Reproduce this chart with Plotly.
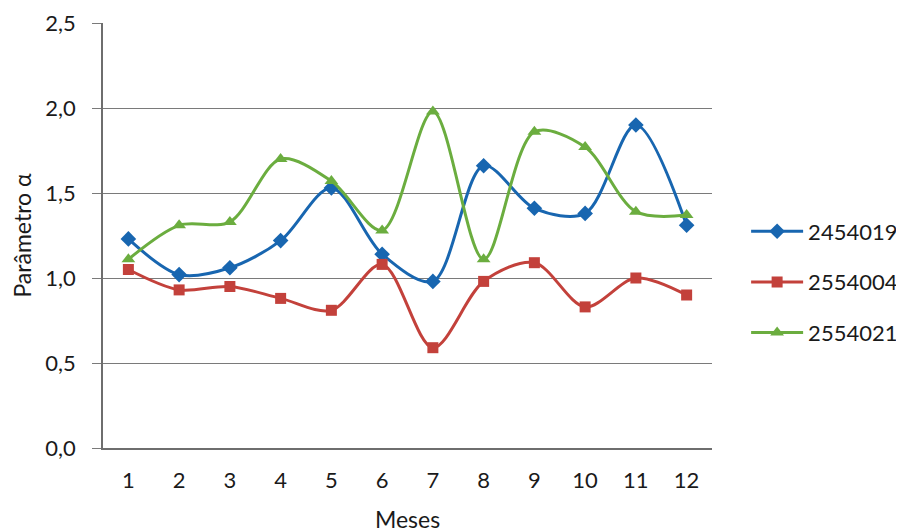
import plotly.graph_objects as go

meses = [1, 2, 3, 4, 5, 6, 7, 8, 9, 10, 11, 12]
s_2454019 = [1.23, 1.02, 1.06, 1.22, 1.53, 1.14, 0.98, 1.66, 1.41, 1.38, 1.90, 1.31]
s_2554004 = [1.05, 0.93, 0.95, 0.88, 0.81, 1.08, 0.59, 0.98, 1.09, 0.83, 1.00, 0.90]
s_2554021 = [1.11, 1.31, 1.33, 1.70, 1.57, 1.28, 1.98, 1.11, 1.86, 1.77, 1.39, 1.37]
series_names = ["2454019", "2554004", "2554021"]
y_ticks = [0.0, 0.5, 1.0, 1.5, 2.0, 2.5]

colors = ["#1866B0", "#C3413B", "#6BAD3F"]
symbols = ["diamond", "square", "triangle-up"]
msizes = [12, 11, 12]

fig = go.Figure()
for name, vals, c, s, ms in zip(series_names, [s_2454019, s_2554004, s_2554021], colors, symbols, msizes):
    fig.add_trace(go.Scatter(
        x=meses, y=vals, name=name, mode="lines+markers", legendgroup=name,
        line=dict(color=c, width=3, shape="spline", smoothing=0.9),
        marker=dict(symbol=s, size=ms, color=c),
    ))

font_family = "Lato, Carlito, 'Liberation Sans', sans-serif"
fig.update_layout(
    width=904, height=532,
    margin=dict(l=95, r=200, t=15, b=92),
    paper_bgcolor="white", plot_bgcolor="white",
    separators=",.",
    font=dict(family=font_family, size=22, color="#1a1a1a"),
    showlegend=True,
    legend=dict(xref="container", yref="container", x=0.8165, y=0.485,
                xanchor="left", yanchor="middle",
                font=dict(size=22), tracegroupgap=19, itemwidth=52,
                borderwidth=0, bgcolor="rgba(0,0,0,0)"),
)
fig.update_xaxes(
    range=[0.5, 12.5], tickmode="array", tickvals=meses,
    ticktext=[str(m) for m in meses],
    showgrid=False, showline=True, linecolor="#6e6e6e", linewidth=1.5,
    ticks="", ticklabelstandoff=12, automargin=False,
    title=dict(text="Meses", font=dict(size=23), standoff=20),
    zeroline=False,
)
fig.update_yaxes(
    range=[0, 2.5], tickmode="array", tickvals=y_ticks,
    tickformat=".1f", automargin=False,
    showgrid=True, gridcolor="#7a7a7a", gridwidth=1.4,
    showline=True, linecolor="#6e6e6e", linewidth=1.5,
    ticks="outside", ticklen=9, tickcolor="#7a7a7a", tickwidth=1.3,
    ticklabelstandoff=12,
    title=dict(text="Parâmetro α", font=dict(size=23), standoff=14),
    zeroline=False,
)

fig.write_html("out.html")
